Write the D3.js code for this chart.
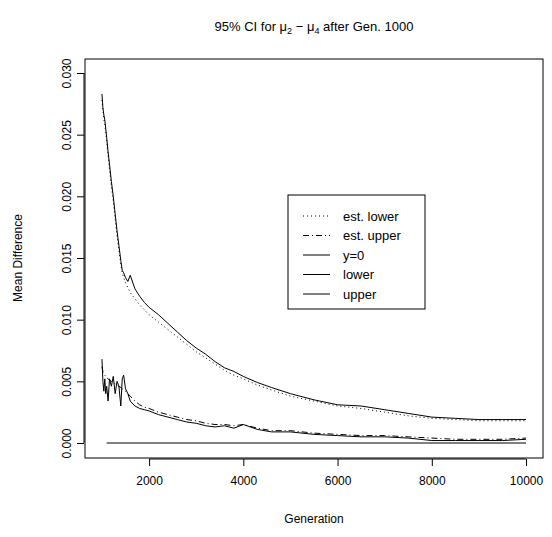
<!DOCTYPE html>
<html><head><meta charset="utf-8">
<script src="https://cdn.jsdelivr.net/npm/d3@7"></script>
<style>body{margin:0;background:#fff}text{font-family:"Liberation Sans",Arial,sans-serif}</style>
</head><body><svg id="c" width="552" height="537"></svg>
<script>
const gens = [1000,1020,1040,1060,1080,1100,1130,1160,1200,1240,1280,1320,1360,1400,1430,1460,1500,1550,1600,1700,1800,1900,2000,2200,2400,2600,2800,3000,3200,3400,3600,3800,4000,4300,4600,5000,5500,6000,6500,7000,7500,8000,8500,9000,9500,10000];
const upper = [0.0283,0.0272,0.0266,0.0262,0.0255,0.0248,0.0236,0.0226,0.0212,0.0200,0.0186,0.0172,0.0160,0.0148,0.0140,0.0138,0.0134,0.0131,0.0136,0.0125,0.0119,0.0114,0.0110,0.0104,0.0097,0.0090,0.0083,0.0077,0.0072,0.0066,0.0061,0.0058,0.0054,0.0049,0.0045,0.0040,0.0035,0.0031,0.0030,0.0027,0.0024,0.0021,0.0020,0.0019,0.0019,0.0019];
const estLower = [0.0278,0.0270,0.0263,0.0258,0.0252,0.0245,0.0233,0.0222,0.0208,0.0196,0.0182,0.0168,0.0156,0.0145,0.0138,0.0134,0.0130,0.0126,0.0122,0.0117,0.0112,0.0108,0.0104,0.0098,0.0092,0.0086,0.0080,0.0074,0.0069,0.0064,0.0059,0.0055,0.0052,0.0047,0.0043,0.0038,0.0034,0.0030,0.0028,0.0025,0.0022,0.0020,0.0019,0.0018,0.0018,0.0018];
const lower = [0.0068,0.0050,0.0042,0.0052,0.0040,0.0046,0.0034,0.0052,0.0046,0.0054,0.0040,0.0050,0.0046,0.0030,0.0052,0.0055,0.0044,0.0040,0.0034,0.0030,0.0028,0.0027,0.0026,0.0023,0.0021,0.0019,0.0017,0.0016,0.0014,0.0013,0.0014,0.0012,0.0015,0.0011,0.0009,0.0009,0.0007,0.0006,0.0005,0.0005,0.0004,0.0002,0.0002,0.0002,0.0002,0.0003];
const estUpper = [0.0062,0.0058,0.0056,0.0055,0.0054,0.0053,0.0052,0.0051,0.0050,0.0049,0.0048,0.0047,0.0046,0.0045,0.0044,0.0043,0.0042,0.0040,0.0038,0.0034,0.0031,0.0029,0.0028,0.0025,0.0023,0.0021,0.0019,0.0018,0.0016,0.0015,0.0015,0.0014,0.0015,0.0012,0.0010,0.0010,0.0008,0.0007,0.0006,0.0006,0.0005,0.0004,0.0003,0.0003,0.0003,0.0004];
const zeroGens = [1100,10000];
const xTicks = [2000,4000,6000,8000,10000];
const yTicks = [0,0.005,0.01,0.015,0.02,0.025,0.03];
const legendLabels = ["est. lower","est. upper","y=0","lower","upper"];
const legendDash = ["1,3","6,3,1,3",null,null,null];

const svg = d3.select("#c");
const L=85, R=543, T=59, B=458;
const x = d3.scaleLinear().domain([640,10360]).range([L,R]);
const y = d3.scaleLinear().domain([0,0.03]).range([443,73]);

svg.append("rect").attr("x",L).attr("y",T).attr("width",R-L).attr("height",B-T)
  .attr("fill","none").attr("stroke","#000");

const xa = svg.append("g").attr("transform","translate(0,"+(B+1)+")")
  .call(d3.axisBottom(x).tickValues(xTicks).tickSize(7).tickPadding(10).tickFormat(d3.format("d")));
xa.select(".domain").attr("d","M"+x(2000)+",0H"+x(10000));
xa.selectAll("text").style("font-size","12px").style("font-family","Liberation Sans");

const ya = svg.append("g").attr("transform","translate("+(L-1)+",0)")
  .call(d3.axisLeft(y).tickValues(yTicks).tickSize(7).tickFormat(d3.format(".3f")));
ya.select(".domain").attr("d","M0,"+y(0)+"V"+y(0.03));
ya.selectAll(".tick text").attr("transform","rotate(-90)").attr("text-anchor","middle")
  .attr("x",0).attr("y",-13).attr("dy",0)
  .style("font-size","12px").style("font-family","Liberation Sans");

function path(vals, gs, dash) {
  const line = d3.line().x((d,i)=>x(gs[i])).y(d=>y(d));
  svg.append("path").attr("d",line(vals)).attr("fill","none").attr("stroke","#000")
    .attr("stroke-width",1).attr("stroke-dasharray",dash);
}
path(estLower, gens, "1,3");
path(estUpper, gens, "6,3,1,3");
path([0,0], zeroGens, null);
path(lower, gens, null);
path(upper, gens, null);

const lg = svg.append("g");
lg.append("rect").attr("x",288).attr("y",195).attr("width",137).attr("height",114)
  .attr("fill","#fff").attr("stroke","#000");
legendLabels.forEach((t,i)=>{
  const yy = 216 + i*19.5;
  lg.append("line").attr("x1",303).attr("x2",330).attr("y1",yy).attr("y2",yy)
    .attr("stroke","#000").attr("stroke-dasharray",legendDash[i]);
  lg.append("text").attr("x",343).attr("y",yy+4.5).style("font-size","13px").text(t);
});

const title = svg.append("text").attr("x",314).attr("y",31).attr("text-anchor","middle").style("font-size","13px");
title.append("tspan").text("95% CI for μ");
title.append("tspan").attr("dy",3).style("font-size","9px").text("2");
title.append("tspan").attr("dy",-3).text(" − μ");
title.append("tspan").attr("dy",3).style("font-size","9px").text("4");
title.append("tspan").attr("dy",-3).text(" after Gen. 1000");

svg.append("text").attr("x",314).attr("y",523).attr("text-anchor","middle").style("font-size","12px").text("Generation");
svg.append("text").attr("transform","translate(22,258) rotate(-90)").attr("text-anchor","middle").style("font-size","12px").text("Mean Difference");
</script></body></html>
